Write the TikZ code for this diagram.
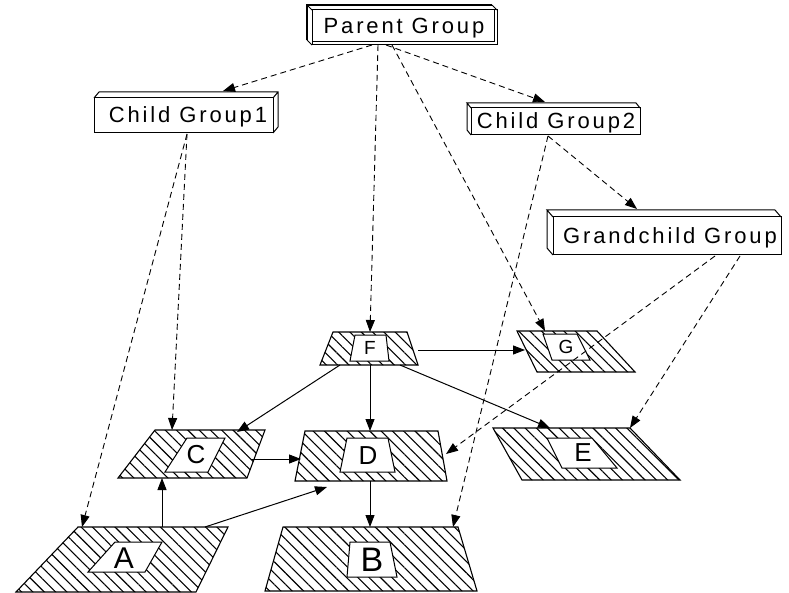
\documentclass[tikz,border=0pt]{standalone}
\usepackage{fontspec}
\setmainfont{Liberation Sans}
\newfontfamily\boxfont[LetterSpace=13]{Liberation Sans}
\usetikzlibrary{arrows.meta,patterns.meta}
\begin{document}
\begin{tikzpicture}[x=1pt,y=-1pt,
  dashline/.style={dash pattern=on 6pt off 4pt, line width=0.9pt, -{Triangle[length=12pt,width=9pt]}},
  solidline/.style={line width=1pt, -{Triangle[length=12pt,width=9pt]}},
  hatch/.style={draw, line width=1.1pt, pattern={Lines[angle=-45,distance=8pt,line width=1.1pt]}},
  innerface/.style={draw, fill=white, line width=1pt},
  boxline/.style={draw, line width=1pt},
  boxlabel/.style={inner sep=0pt, font=\boxfont\fontsize{22}{26}\selectfont},
  letter/.style={inner sep=0pt}]
\useasboundingbox (0,0) rectangle (789,593);
\fill[white] (0,0) rectangle (789,593);

% ---- 3D boxes ----
% Parent Group
\draw[boxline] (312,10) rectangle (497,45);
\draw[boxline] (312,10) rectangle (494,42);
\draw[boxline, line width=1.5pt] (307,40) -- (307,5) -- (492,5);
\draw[boxline] (307,5) -- (312,10) (492,5) -- (497,10) (307,40) -- (312,45);
\node[boxlabel] (pg) at (404,28) {Parent Group};
% Child Group1
\draw[boxline] (94,98) rectangle (273,133);
\draw[boxline] (94,98) -- (99,92) -- (278,92) -- (278,127) -- (273,133) (273,98) -- (278,92);
\node[boxlabel] (cg1) at (188,117) {Child Group1};
% Child Group2
\draw[boxline] (471,108) rectangle (640,135);
\draw[boxline] (471,108) -- (467,103) -- (636,103) -- (640,108) (467,103) -- (467,130) -- (471,135);
\node[boxlabel] (cg2) at (556,123) {Child Group2};
% Grandchild Group
\draw[boxline] (553,217) rectangle (781,255);
\draw[boxline] (553,217) -- (547,210) -- (775,210) -- (781,217) (547,210) -- (547,248) -- (553,255);
\node[boxlabel] (gc) at (670,238) {Grandchild Group};

% ---- hatched faces ----
% F
\path[hatch] (333,332) -- (407,332) -- (418,365) -- (320,365) -- cycle;
\path[innerface] (355,335) -- (386,335) -- (389,361) -- (350,361) -- cycle;
\node[letter, font=\fontsize{19}{21}\selectfont] (F) at (370,348) {F};
% G
\path[hatch] (517,331) -- (597,331) -- (635,372) -- (537,372) -- cycle;
\path[innerface] (543,334) -- (577,334) -- (590,360) -- (552,360) -- cycle;
\node[letter, font=\fontsize{19}{21}\selectfont] (G) at (566,347) {G};
% C
\path[hatch] (155,430) -- (265,430) -- (247,478) -- (118,478) -- cycle;
\path[innerface] (187,438) -- (225,438) -- (208,472) -- (165,472) -- cycle;
\node[letter, font=\fontsize{26}{28}\selectfont] (C) at (196,455) {C};
% D
\path[hatch] (305,431) -- (438,431) -- (447,481) -- (295,481) -- cycle;
\path[innerface] (347,438) -- (388,438) -- (395,472) -- (340,472) -- cycle;
\node[letter, font=\fontsize{26}{28}\selectfont] (D) at (368,456) {D};
% E
\path[hatch] (493,428) -- (630,428) -- (680,480) -- (522,480) -- cycle;
\path[innerface] (547,438) -- (592,438) -- (617,468) -- (562,468) -- cycle;
\node[letter, font=\fontsize{26}{28}\selectfont] (E) at (583,453) {E};
% A
\path[hatch] (78,527) -- (228,527) -- (196,592) -- (16,592) -- cycle;
\path[innerface] (115,542) -- (162,542) -- (145,572) -- (88,572) -- cycle;
\node[letter, font=\fontsize{30}{32}\selectfont] (A) at (124,558) {A};
% B
\path[hatch] (283,527) -- (458,527) -- (477,591) -- (265,591) -- cycle;
\path[innerface] (350,542) -- (390,542) -- (397,577) -- (347,577) -- cycle;
\node[letter, font=\fontsize{34}{36}\selectfont] (B) at (372,560) {B};

% ---- connector anchors ----
\coordinate (pgA) at (372,45);
\coordinate (pgB) at (386,45);
\coordinate (pgC) at (378,45);
\coordinate (pgD) at (392,45);
\coordinate (cg1top) at (223,91);
\coordinate (cg2top) at (545,102);
\coordinate (Ftop) at (370,332);
\coordinate (Gtop) at (545,331);
\coordinate (cg1bot) at (187,134);
\coordinate (Ctop) at (172,430);
\coordinate (Atop) at (82,527);
\coordinate (cg2bot) at (548,136);
\coordinate (gctop) at (637,209);
\coordinate (Btop) at (453,527);
\coordinate (gcbotA) at (715,256);
\coordinate (Dright) at (446,454);
\coordinate (gcbotB) at (740,256);
\coordinate (Etopr) at (630,428);
\coordinate (Fright) at (418,350);
\coordinate (Gleft) at (525,350);
\coordinate (Fbl) at (340,365);
\coordinate (Ctr) at (237,432);
\coordinate (Fbot) at (370,365);
\coordinate (Dtop) at (370,431);
\coordinate (Fbr) at (400,365);
\coordinate (Etop) at (550,428);
\coordinate (Cright) at (251,459);
\coordinate (Dleft) at (301,459);
\coordinate (Atopm) at (162,527);
\coordinate (Cbot) at (162,478);
\coordinate (Atr) at (205,527);
\coordinate (Dbl) at (327,487);
\coordinate (Dbot) at (370,481);
\coordinate (Btopm) at (370,527);

% ---- dashed connectors ----
\draw[dashline] (pgA) -- (cg1top);
\draw[dashline] (pgB) -- (cg2top);
\draw[dashline] (pgC) -- (Ftop);
\draw[dashline] (pgD) -- (Gtop);
\draw[dashline] (cg1bot) -- (Ctop);
\draw[dashline] (cg1bot) -- (Atop);
\draw[dashline] (cg2bot) -- (gctop);
\draw[dashline] (cg2bot) -- (Btop);
\draw[dashline] (gcbotA) -- (Dright);
\draw[dashline] (gcbotB) -- (Etopr);

% ---- solid connectors ----
\draw[solidline] (Fright) -- (Gleft);
\draw[solidline] (Fbl) -- (Ctr);
\draw[solidline] (Fbot) -- (Dtop);
\draw[solidline] (Fbr) -- (Etop);
\draw[solidline] (Cright) -- (Dleft);
\draw[solidline] (Atopm) -- (Cbot);
\draw[solidline] (Atr) -- (Dbl);
\draw[solidline] (Dbot) -- (Btopm);
\end{tikzpicture}
\end{document}
